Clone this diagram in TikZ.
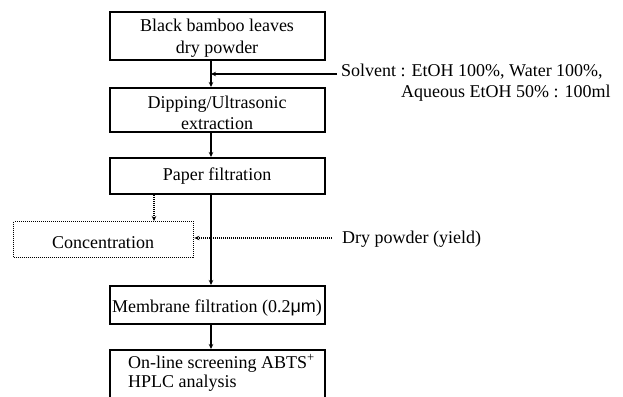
\documentclass[tikz,border=0pt]{standalone}
\usepackage{fontspec}
\setmainfont{Liberation Serif}
\setsansfont{Liberation Sans}
\usetikzlibrary{arrows.meta}
\begin{document}
\begin{tikzpicture}[x=1pt,y=-1pt,
  box/.style={rectangle, draw=black, line width=1.8pt, inner sep=0pt, anchor=north west, minimum width=215pt},
  dbox/.style={rectangle, draw=black, line width=1.4pt, dash pattern=on 1pt off 1pt, inner sep=0pt, anchor=north west},
  txt/.style={inner sep=0pt, anchor=base, font=\fontsize{18}{21}\selectfont},
  conn/.style={draw=black, line width=1.8pt, -{Stealth[length=5pt,width=4.5pt]}},
  dconn/.style={draw=black, line width=1.4pt, dash pattern=on 1pt off 1pt, -{Stealth[length=5pt,width=4.5pt]}}]
\useasboundingbox (0,0) rectangle (623,396);
\fill[white] (0,0) rectangle (623,396);
\clip (0,0) rectangle (623,396);

% boxes
\node[box, minimum height=48pt] (b1) at (109,11) {};
\node[box, minimum height=44pt] (b2) at (109,87) {};
\node[box, minimum height=36pt] (b3) at (109,157) {};
\node[box, minimum height=38pt] (b4) at (109,285) {};
\node[box, minimum height=60pt] (b5) at (109,349) {};
\node[dbox, minimum width=180pt, minimum height=36pt] (conc) at (13,221) {};

% texts
\node[txt] (t1a) at (217,32) {Black bamboo leaves};
\node[txt] (t1b) at (217,53) {dry powder};
\node[txt] (t2a) at (217,108) {Dipping/Ultrasonic};
\node[txt] (t2b) at (217,129) {extraction};
\node[txt] (t3) at (217,180) {Paper filtration};
\node[txt] (t4) at (217,312) {Membrane filtration (0.2{\sffamily μm})};
\node[txt, anchor=base west] (t5a) at (128,368) {On-line screening ABTS\textsuperscript{+}};
\node[txt, anchor=base west] (t5b) at (128,387) {HPLC analysis};
\node[txt] (tc) at (103,248) {Concentration};
\node[txt, anchor=base west] (solv1) at (341,77) {Solvent : EtOH 100\%, Water 100\%,};
\node[txt, anchor=base west] (solv2) at (401,97) {Aqueous EtOH 50\% : 100ml};
\node[txt, anchor=base west] (dry) at (342,243) {Dry powder (yield)};

% connector anchors
\coordinate (mx) at (211,0);
\coordinate (dx) at (154,0);
\coordinate (sv) at (337,74);
\coordinate (dp) at (332,238);

% dotted connectors
\draw[dconn] (b3.south -| dx) -- (conc.north -| dx);
\draw[dconn] (dp) -- (dp -| conc.east);

% solid connectors
\draw[conn] (b1.south -| mx) -- (b2.north -| mx);
\draw[conn] (sv) -- (sv -| mx);
\draw[conn] (b2.south -| mx) -- (b3.north -| mx);
\draw[conn] (b3.south -| mx) -- (b4.north -| mx);
\draw[conn] (b4.south -| mx) -- (b5.north -| mx);
\end{tikzpicture}
\end{document}
